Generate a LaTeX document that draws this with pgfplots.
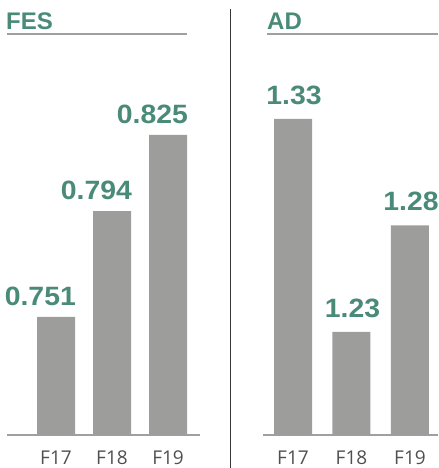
\documentclass[border=0pt]{standalone}
\usepackage{fontspec}
\setmainfont{Liberation Sans}
\newfontfamily\valfont{Liberation Sans}[FakeStretch=1.07]
\newfontfamily\tickfont{Open Sans}
\usepackage{pgfplots}
\pgfplotsset{compat=1.18}
\usepackage{pgfplotstable}
\definecolor{grn}{RGB}{74,138,120}
\definecolor{bargray}{RGB}{157,158,156}
\definecolor{linegray}{RGB}{160,160,160}
\definecolor{sepgray}{RGB}{55,55,55}
\definecolor{tickgray}{RGB}{80,80,80}
\pgfplotstableread{
x y label
0 0.751 0.751
1 0.794 0.794
2 0.825 0.825
}\fes
\pgfplotstableread{
x y label
0 1.33 1.33
1 1.23 1.23
2 1.28 1.28
}\ad
\pgfplotsset{
  panel/.style={
    scale only axis,
    anchor=south west,
    height=395bp,
    axis x line*=bottom,
    axis y line=none,
    axis line style={draw=linegray, line width=1.6bp},
    x axis line style={-},
    ytick=\empty,
    xtick={0,1,2},
    xticklabels={F17,F18,F19},
    major tick length=0pt,
    xticklabel style={font=\tickfont\fontsize{19bp}{22bp}\selectfont, text=tickgray, inner sep=0pt, text height=13.6bp, text depth=0pt, anchor=north, yshift=-15.5bp},
    ybar, bar width=38bp,
    clip=false,
  }
}
\begin{document}
\begin{tikzpicture}
\useasboundingbox (0,0) rectangle (439bp,-468bp);
% left panel
\begin{axis}[panel, at={(7bp,-435bp)}, width=193bp,
  xmin=-0.875, xmax=2.571, ymin=0.703, ymax=0.8636,
  nodes near coords={\pgfplotspointmeta},
  point meta=explicit symbolic,
  nodes near coords style={font=\valfont\bfseries\fontsize{26.5bp}{30bp}\selectfont, text=grn, inner sep=0pt, anchor=south east, xshift=20bp, yshift=11bp},
]
\addplot[fill=bargray, draw=none] table[x=x, y=y, meta=label] {\fes};
\end{axis}
% right panel
\begin{axis}[panel, at={(263bp,-435bp)}, width=175bp,
  xmin=-0.513, xmax=2.479, ymin=1.1816, ymax=1.367,
  nodes near coords={\pgfplotspointmeta},
  point meta=explicit symbolic,
  nodes near coords style={font=\valfont\bfseries\fontsize{26.5bp}{30bp}\selectfont, text=grn, inner sep=0pt, anchor=south, xshift=1bp, yshift=14bp},
]
\addplot[fill=bargray, draw=none] table[x=x, y=y, meta=label] {\ad};
\end{axis}
% titles and rules
\node[anchor=base west, inner sep=0pt, text=grn, font=\bfseries\fontsize{24bp}{27bp}\selectfont] at (6bp,-29bp) {FES};
\node[anchor=base west, inner sep=0pt, text=grn, font=\bfseries\fontsize{24bp}{27bp}\selectfont] at (267bp,-29bp) {AD};
\draw[linegray, line width=1.3bp] (7bp,-34bp) -- (187bp,-34bp);
\draw[linegray, line width=1.3bp] (267bp,-34bp) -- (438bp,-34bp);
\draw[sepgray, line width=1.5bp] (230.5bp,-9bp) -- (230.5bp,-468bp);
\end{tikzpicture}
\end{document}
